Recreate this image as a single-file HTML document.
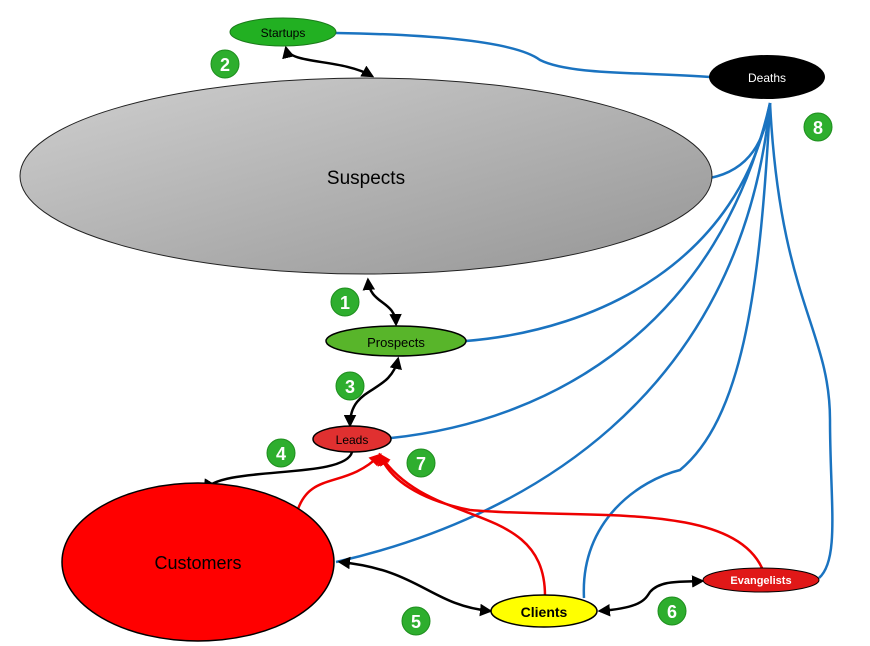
<!DOCTYPE html>
<html><head><meta charset="utf-8"><style>
html,body{margin:0;padding:0;background:#fff;}
svg{display:block;font-family:"Liberation Sans",sans-serif;}
</style></head><body>
<svg width="870" height="646" viewBox="0 0 870 646" xmlns="http://www.w3.org/2000/svg">
<defs>
<linearGradient id="g" x1="0" y1="0" x2="1" y2="1">
<stop offset="0" stop-color="#cfcfcf"/><stop offset="1" stop-color="#959595"/></linearGradient>
<marker id="a" viewBox="0 0 10 10" refX="8" refY="5" markerWidth="5" markerHeight="5" orient="auto-start-reverse"><path d="M0,0L10,5L0,10z" fill="#000"/></marker>
<marker id="r" viewBox="0 0 10 10" refX="8" refY="5" markerWidth="5" markerHeight="5" orient="auto"><path d="M0,0L10,5L0,10z" fill="#e00"/></marker>
</defs>
<g fill="none" stroke="#1a73c0" stroke-width="2.5">
<path d="M336,33 C460,35 520,45 540,60 C570,75 640,72 710,77"/>
<path d="M710,178 C750,170 765,140 770,103"/>
<path d="M466,341 C600,330 740,260 770,103"/>
<path d="M391,438 C560,420 720,320 770,103"/>
<path d="M336,562 C520,520 740,400 770,103"/>
<path d="M584,598 C580,520 640,480 680,470 C740,420 760,300 770,103"/>
<path d="M819,578 C840,560 830,500 830,420 C830,330 780,300 770,103"/>
</g>
<g fill="none" stroke="#e00" stroke-width="2.5">
<path d="M297,512 C310,470 345,490 380,455" marker-end="url(#r)"/>
<path d="M545,596 C545,500 430,530 380,455" marker-end="url(#r)"/>
<path d="M762,568 C730,500 580,520 470,510 C420,500 390,480 380,455" marker-end="url(#r)"/>
</g>
<g fill="none" stroke="#000" stroke-width="2.5">
<path d="M286,48 C290,65 340,58 372,76" marker-start="url(#a)" marker-end="url(#a)"/>
<path d="M368,280 C370,305 395,300 396,324" marker-start="url(#a)" marker-end="url(#a)"/>
<path d="M398,359 C390,395 350,385 350,425" marker-start="url(#a)" marker-end="url(#a)"/>
<path d="M352,452 C345,480 220,465 205,490" marker-end="url(#a)"/>
<path d="M340,562 C420,570 430,605 490,611" marker-start="url(#a)" marker-end="url(#a)"/>
<path d="M600,611 C640,608 645,600 650,592 C660,580 680,582 702,581" marker-start="url(#a)" marker-end="url(#a)"/>
</g>
<ellipse cx="366" cy="176" rx="346" ry="98" fill="url(#g)" stroke="#222" stroke-width="1"/>
<ellipse cx="283" cy="32" rx="53" ry="14" fill="#22b022" stroke="#1a7a1a"/>
<ellipse cx="767" cy="77" rx="58" ry="22" fill="#000"/>
<ellipse cx="396" cy="341" rx="70" ry="15" fill="#58b52a" stroke="#000" stroke-width="1.5"/>
<ellipse cx="352" cy="439" rx="39" ry="13" fill="#e03030" stroke="#000" stroke-width="1.5"/>
<ellipse cx="198" cy="562" rx="136" ry="79" fill="#f00" stroke="#000" stroke-width="1.5"/>
<ellipse cx="544" cy="611" rx="53" ry="16" fill="#ff0" stroke="#000" stroke-width="1.5"/>
<ellipse cx="761" cy="580" rx="58" ry="12" fill="#e01818" stroke="#000" stroke-width="1"/>
<g text-anchor="middle">
<text x="283" y="37" font-size="12">Startups</text>
<text x="767" y="82" font-size="12" fill="#fff">Deaths</text>
<text x="366" y="184" font-size="19">Suspects</text>
<text x="396" y="347" font-size="13">Prospects</text>
<text x="352" y="444" font-size="12">Leads</text>
<text x="198" y="569" font-size="18">Customers</text>
<text x="544" y="617" font-size="14" font-weight="bold">Clients</text>
<text x="761" y="584" font-size="11" font-weight="bold" fill="#fff">Evangelists</text>
</g>
<g fill="#2eae2e" stroke="#1e8e1e">
<circle cx="225" cy="64" r="14"/><circle cx="818" cy="127" r="14"/>
<circle cx="345" cy="302" r="14"/><circle cx="350" cy="386" r="14"/>
<circle cx="281" cy="453" r="14"/><circle cx="421" cy="463" r="14"/>
<circle cx="416" cy="621" r="14"/><circle cx="672" cy="611" r="14"/>
</g>
<g fill="#fff" font-size="18" font-weight="bold" text-anchor="middle">
<text x="225" y="71">2</text><text x="818" y="134">8</text>
<text x="345" y="309">1</text><text x="350" y="393">3</text>
<text x="281" y="460">4</text><text x="421" y="470">7</text>
<text x="416" y="628">5</text><text x="672" y="618">6</text>
</g>
</svg>
</body></html>
